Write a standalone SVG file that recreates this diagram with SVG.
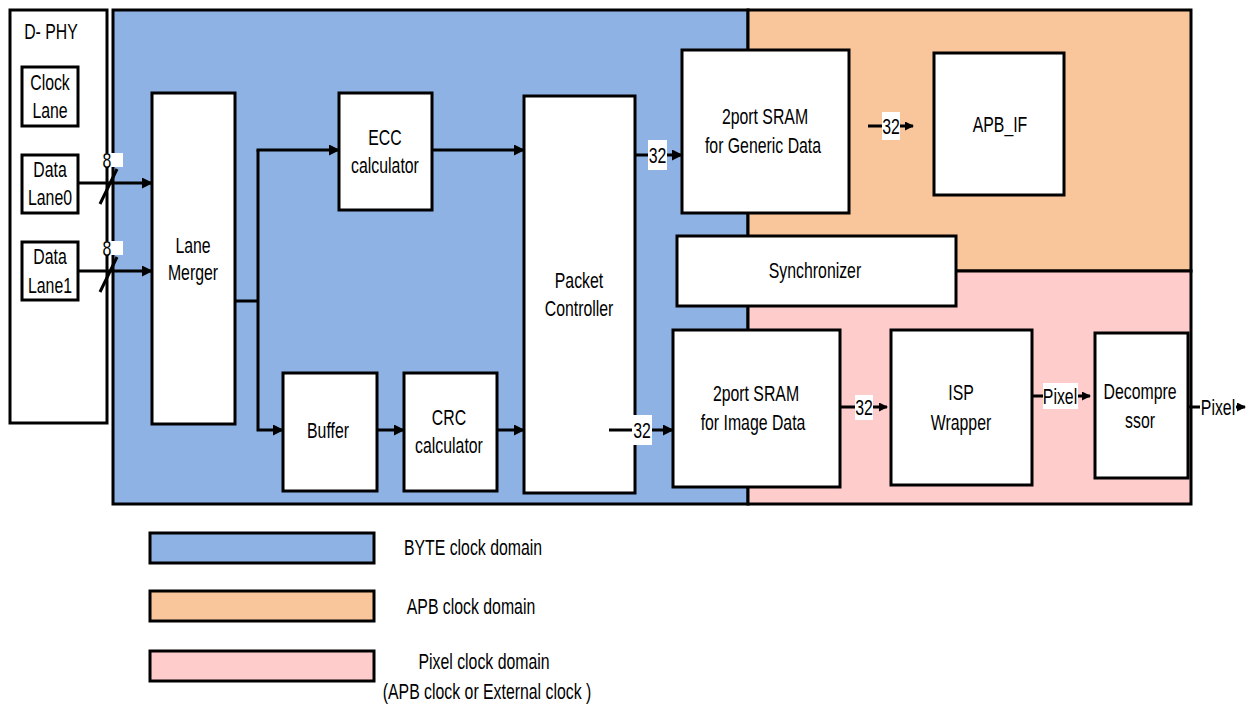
<svg xmlns="http://www.w3.org/2000/svg" width="1246" height="704" viewBox="0 0 1246 704">
<defs>
<style>
text{font-family:"Liberation Sans",Arial,sans-serif;font-size:22px;fill:#000;text-anchor:middle}
.box{fill:#fff;stroke:#000;stroke-width:3}
.reg{stroke:#000;stroke-width:3}
.ln{fill:none;stroke:#000;stroke-width:3}
.lb{fill:#fff;stroke:none}
</style>
<marker id="ah" markerWidth="11" markerHeight="11" refX="10" refY="5.5" orient="auto" markerUnits="userSpaceOnUse" viewBox="0 0 11 11">
<path d="M0,0 L11,5.5 L0,11 z" fill="#000"/>
</marker>
<marker id="ahs" markerWidth="9" markerHeight="9" refX="8" refY="4.5" orient="auto" markerUnits="userSpaceOnUse" viewBox="0 0 9 9">
<path d="M0,0 L9,4.5 L0,9 z" fill="#000"/>
</marker>
</defs>
<rect width="1246" height="704" fill="#fff"/>

<g id="regions">
<rect class="reg" x="113" y="10" width="635" height="494" fill="#8DB2E3"/>
<rect class="reg" x="748" y="10" width="443" height="261" fill="#F9C59A"/>
<rect class="reg" x="748" y="271" width="443" height="233" fill="#FFCCCC"/>
</g>

<g id="dphy">
<rect class="box" x="10" y="10" width="97" height="413"/>
<text transform="translate(51,39) scale(0.72,1)">D- PHY</text>
</g>
<g id="clock-lane">
<rect class="box" x="22" y="67" width="56" height="59"/>
<text transform="translate(50,90) scale(0.72,1)">Clock</text>
<text transform="translate(50,118) scale(0.72,1)">Lane</text>
</g>
<g id="data-lane0">
<rect class="box" x="22" y="155" width="56" height="58"/>
<text transform="translate(50,177) scale(0.72,1)">Data</text>
<text transform="translate(50,205) scale(0.72,1)">Lane0</text>
</g>
<g id="data-lane1">
<rect class="box" x="22" y="242" width="56" height="58"/>
<text transform="translate(50,264) scale(0.72,1)">Data</text>
<text transform="translate(50,293) scale(0.72,1)">Lane1</text>
</g>

<g id="lane-merger">
<rect class="box" x="152" y="93" width="83" height="331"/>
<text transform="translate(193,253) scale(0.72,1)">Lane</text>
<text transform="translate(193,280) scale(0.72,1)">Merger</text>
</g>
<g id="ecc">
<rect class="box" x="339" y="93" width="93" height="117"/>
<text transform="translate(385,145) scale(0.72,1)">ECC</text>
<text transform="translate(385,173) scale(0.72,1)">calculator</text>
</g>
<g id="buffer">
<rect class="box" x="283" y="373" width="94" height="118"/>
<text transform="translate(328,438) scale(0.72,1)">Buffer</text>
</g>
<g id="crc">
<rect class="box" x="404" y="373" width="93" height="118"/>
<text transform="translate(449,425) scale(0.72,1)">CRC</text>
<text transform="translate(449,453) scale(0.72,1)">calculator</text>
</g>
<g id="packet-controller">
<rect class="box" x="524" y="96" width="111" height="397"/>
<text transform="translate(579,288) scale(0.72,1)">Packet</text>
<text transform="translate(579,316) scale(0.72,1)">Controller</text>
</g>
<g id="sram-generic">
<rect class="box" x="682" y="50" width="167" height="163"/>
<text transform="translate(765,124) scale(0.72,1)">2port SRAM</text>
<text transform="translate(763,153) scale(0.72,1)">for Generic Data</text>
</g>
<g id="apb-if">
<rect class="box" x="934" y="53" width="130" height="142"/>
<text transform="translate(1000,132) scale(0.72,1)">APB_IF</text>
</g>
<g id="synchronizer">
<rect class="box" x="677" y="236" width="279" height="70"/>
<text transform="translate(815,278) scale(0.72,1)">Synchronizer</text>
</g>
<g id="sram-image">
<rect class="box" x="673" y="330" width="167" height="157"/>
<text transform="translate(756,401) scale(0.72,1)">2port SRAM</text>
<text transform="translate(753,430) scale(0.72,1)">for Image Data</text>
</g>
<g id="isp-wrapper">
<rect class="box" x="891" y="330" width="141" height="155"/>
<text transform="translate(961,400) scale(0.72,1)">ISP</text>
<text transform="translate(961,430) scale(0.72,1)">Wrapper</text>
</g>
<g id="decompressor">
<rect class="box" x="1095" y="333" width="93" height="145"/>
<text transform="translate(1140,399) scale(0.72,1)">Decompre</text>
<text transform="translate(1140,428) scale(0.72,1)">ssor</text>
</g>

<g id="connectors">
<line class="ln" x1="78" y1="183" x2="152" y2="183" marker-end="url(#ah)"/>
<line class="ln" x1="100" y1="204" x2="117" y2="169"/>
<rect class="lb" x="93" y="153" width="30" height="14"/>
<text transform="translate(107,168) scale(0.72,1)">8</text>
<line class="ln" x1="78" y1="271" x2="152" y2="271" marker-end="url(#ah)"/>
<line class="ln" x1="100" y1="292" x2="117" y2="257"/>
<rect class="lb" x="93" y="241" width="30" height="14"/>
<text transform="translate(107,256) scale(0.72,1)">8</text>

<line class="ln" x1="235" y1="301" x2="258" y2="301"/>
<polyline class="ln" points="258,150 258,430 283,430" marker-end="url(#ah)"/>
<line class="ln" x1="256.5" y1="150" x2="339" y2="150" marker-end="url(#ah)"/>
<line class="ln" x1="432" y1="150" x2="524" y2="150" marker-end="url(#ah)"/>
<line class="ln" x1="377" y1="430" x2="404" y2="430" marker-end="url(#ah)"/>
<line class="ln" x1="497" y1="430" x2="524" y2="430" marker-end="url(#ah)"/>

<line class="ln" x1="635" y1="155" x2="682" y2="155" marker-end="url(#ah)"/>
<rect class="lb" x="648" y="140" width="19" height="30"/>
<text transform="translate(657.5,163) scale(0.72,1)">32</text>

<line class="ln" x1="609" y1="430" x2="673" y2="430" marker-end="url(#ah)"/>
<rect class="lb" x="632" y="415" width="20" height="30"/>
<text transform="translate(642,438) scale(0.72,1)">32</text>

<line class="ln" x1="868" y1="126" x2="913" y2="126" marker-end="url(#ahs)"/>
<rect class="lb" x="882" y="112" width="18" height="28"/>
<text transform="translate(891,134) scale(0.72,1)">32</text>

<line class="ln" x1="840" y1="407" x2="887" y2="407" marker-end="url(#ahs)"/>
<rect class="lb" x="855" y="395" width="18" height="25"/>
<text transform="translate(864,415) scale(0.72,1)">32</text>

<line class="ln" x1="1032" y1="396" x2="1090" y2="396" marker-end="url(#ahs)"/>
<rect class="lb" x="1043" y="383" width="35" height="26"/>
<text transform="translate(1060,404) scale(0.72,1)">Pixel</text>

<line class="ln" x1="1188" y1="407" x2="1245" y2="407" marker-end="url(#ahs)"/>
<rect class="lb" x="1200" y="395" width="36" height="25"/>
<text transform="translate(1218,415) scale(0.72,1)">Pixel</text>
</g>

<g id="legend">
<rect class="reg" x="150" y="533" width="224" height="30" fill="#8DB2E3"/>
<text transform="translate(473,555) scale(0.72,1)">BYTE clock domain</text>
<rect class="reg" x="150" y="591" width="224" height="30" fill="#F9C59A"/>
<text transform="translate(471,614) scale(0.72,1)">APB clock domain</text>
<rect class="reg" x="150" y="651" width="224" height="30" fill="#FFCCCC"/>
<text transform="translate(484,669) scale(0.72,1)">Pixel clock domain</text>
<text transform="translate(487,699) scale(0.72,1)">(APB clock or External clock   )</text>
</g>
</svg>
